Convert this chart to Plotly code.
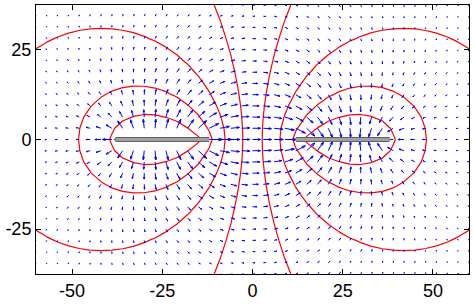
import numpy as np
import plotly.graph_objects as go

# ---- data ----
grid_x = np.arange(-60, 60.001, 3.0)          # 41 columns of arrows
grid_y = np.arange(-37.5, 37.501, 3.125)      # 25 rows of arrows
plate_pos = [-38.0, -12.0]                    # positively charged plate (left)
plate_neg = [12.0, 38.0]                      # negatively charged plate (right)
plate_charge = [1.0, -1.0]
contour_levels = dict(start=-43.75, end=43.75, size=12.5)
x_ticks = [-50, -25, 0, 25, 50]
y_ticks = [-25, 0, 25]

# ---- 2-D potential of uniformly charged strips (log kernel) ----
def F(u, y):
    ay = np.abs(y)
    r2 = u**2 + y**2
    t1 = np.where(r2 > 0, 0.5 * u * np.log(np.where(r2 > 0, r2, 1.0)), 0.0)
    t3 = np.where(ay > 0, ay * np.arctan(u / np.where(ay > 0, ay, 1.0)), 0.0)
    return t1 - u + t3

def strip_potential(x, y, a, b):
    return -(F(b - x, y) - F(a - x, y))

X, Y = np.meshgrid(grid_x, grid_y)
V = (plate_charge[0] * strip_potential(X, Y, *plate_pos)
     + plate_charge[1] * strip_potential(X, Y, *plate_neg))

dVy, dVx = np.gradient(V, grid_y, grid_x)
U, W = -dVx, -dVy

# ---- quiver (MATLAB-like autoscale and arrowheads) ----
n, m = X.shape
delx = (grid_x.max() - grid_x.min()) / m
dely = (grid_y.max() - grid_y.min()) / n
ln = np.sqrt((U**2 + W**2) / (delx**2 + dely**2))
scale = 0.9 / ln.max()
u = U * scale
v = W * scale
alpha, beta = 0.33, 0.33
qx, qy = [], []
for xi, yi, ui, vi in zip(X.ravel(), Y.ravel(), u.ravel(), v.ravel()):
    qx += [xi, xi + ui, None]
    qy += [yi, yi + vi, None]
    qx += [xi + ui - alpha * (ui + beta * vi), xi + ui, xi + ui - alpha * (ui - beta * vi), None]
    qy += [yi + vi - alpha * (vi - beta * ui), yi + vi, yi + vi - alpha * (vi + beta * ui), None]

fig = go.Figure()
fig.add_trace(go.Scatter(x=qx, y=qy, mode='lines', line=dict(color='#0000ff', width=1),
                         hoverinfo='skip', showlegend=False))
fig.add_trace(go.Contour(x=grid_x, y=grid_y, z=V, autocontour=False, contours=dict(coloring='lines', **contour_levels),
                         colorscale=[[0, '#ff0000'], [1, '#ff0000']], showscale=False,
                         line=dict(width=1.2, smoothing=0), hoverinfo='skip'))
for seg in (plate_pos, plate_neg):
    fig.add_trace(go.Scatter(x=seg, y=[0, 0], mode='lines', line=dict(color='#606060', width=5),
                             hoverinfo='skip', showlegend=False))
    fig.add_trace(go.Scatter(x=seg, y=[0, 0], mode='lines', line=dict(color='#a0a0a0', width=3),
                             hoverinfo='skip', showlegend=False))

axis_common = dict(showgrid=False, zeroline=False, showline=True, linecolor='black', linewidth=1,
                   mirror='allticks', ticks='inside', ticklen=5, tickcolor='black',
                   tickfont=dict(family='Liberation Sans, Arial, sans-serif', size=18, color='black'))
fig.update_xaxes(range=[-60, 60], tickvals=x_ticks, ticktext=[str(t) for t in x_ticks], **axis_common)
fig.update_yaxes(range=[-37.5, 37.5], tickvals=y_ticks, ticktext=[str(t) for t in y_ticks], ticklabelstandoff=0,
                 **axis_common)
fig.update_layout(width=473, height=304, margin=dict(l=36, r=3, t=5, b=28),
                  plot_bgcolor='white', paper_bgcolor='white', showlegend=False)
fig.write_html('out.html')
